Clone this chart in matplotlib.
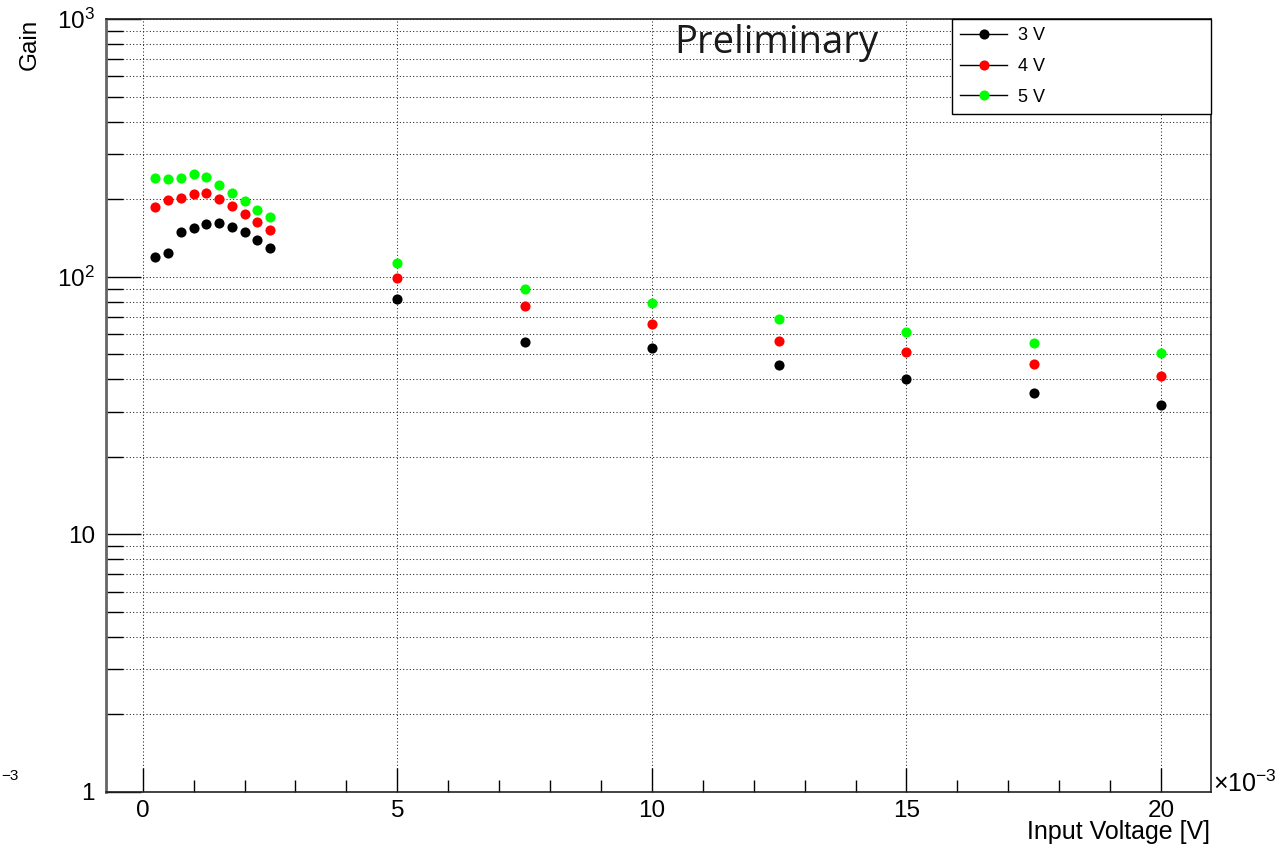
import matplotlib
matplotlib.use("Agg")
import matplotlib.pyplot as plt
from matplotlib.lines import Line2D
from matplotlib.ticker import FixedLocator, FuncFormatter, MultipleLocator

plt.rcParams['font.family'] = ['Liberation Sans', 'DejaVu Sans']
plt.rcParams['mathtext.fontset'] = 'custom'
plt.rcParams['mathtext.rm'] = 'Liberation Sans'
plt.rcParams['mathtext.it'] = 'Liberation Sans:italic'

# input amplitude in volts
input_voltage = [0.00025, 0.0005, 0.00075, 0.001, 0.00125, 0.0015, 0.00175, 0.002,
                 0.00225, 0.0025, 0.005, 0.0075, 0.01, 0.0125, 0.015, 0.0175, 0.02]

gain_3v = [119.0, 123.4, 149.7, 154.3, 160.3, 162.2, 155.7, 149.7, 139.0, 129.0,
           82.0, 55.7, 52.8, 45.5, 40.0, 35.5, 31.8]
gain_4v = [186.1, 198.7, 202.8, 209.1, 211.0, 200.4, 188.3, 175.3, 163.7, 152.0,
           98.7, 77.0, 65.6, 56.5, 51.2, 45.9, 41.2]
gain_5v = [241.2, 239.0, 241.2, 250.6, 243.4, 227.2, 212.1, 196.9, 181.7, 171.2,
           112.8, 89.4, 78.9, 68.6, 61.2, 55.5, 50.5]

series = [("3 V", gain_3v, "#000000"),
          ("4 V", gain_4v, "#ff0000"),
          ("5 V", gain_5v, "#00ff00")]

fig = plt.figure(figsize=(12.75, 8.49), dpi=100)
ax = fig.add_axes([0.08314, 0.06714, 0.86667, 0.91013])

for label, gain, col in series:
    ax.plot(input_voltage, gain, linestyle="none", marker="o", markersize=7.3,
            color=col, markeredgewidth=0, zorder=3)

ax.set_yscale("log")
ax.set_xlim(-0.00072, 0.02098)
ax.set_ylim(1, 1000)

# x axis in units of 1e-3 V
ax.xaxis.set_major_locator(MultipleLocator(0.005))
ax.xaxis.set_minor_locator(MultipleLocator(0.001))
ax.xaxis.set_major_formatter(FuncFormatter(lambda v, p: f"{v * 1e3:g}"))

ylabels = {1: "1", 10: "10", 100: r"$10^{2}$", 1000: r"$10^{3}$"}
ax.yaxis.set_major_locator(FixedLocator([1, 10, 100, 1000]))
ax.yaxis.set_major_formatter(FuncFormatter(lambda v, p: ylabels.get(int(round(v)), "")))
minor_y = [m * d for d in (1, 10, 100) for m in range(2, 10)]
ax.yaxis.set_minor_locator(FixedLocator(minor_y))
ax.yaxis.set_minor_formatter(FuncFormatter(lambda v, p: ""))

ax.tick_params(axis="x", which="major", direction="in", length=17, width=1,
               labelsize=17.5, pad=6)
ax.tick_params(axis="x", which="minor", direction="in", length=9, width=1)
ax.tick_params(axis="y", which="major", direction="in", length=25, width=1,
               labelsize=17.5, pad=8)
ax.tick_params(axis="y", which="minor", direction="in", length=12.5, width=1)
ax.tick_params(top=False, right=False, which="both")

gridstyle = dict(color="#222222", linewidth=0.75, linestyle=(0, (1, 2.2)))
ax.grid(True, axis="x", which="major", **gridstyle)
ax.grid(True, axis="y", which="both", **gridstyle)
ax.set_axisbelow(True)

for side in ("left", "bottom", "top", "right"):
    ax.spines[side].set_linewidth(1.2)
    ax.spines[side].set_color("#222222")
ax.spines["left"].set_color("#666666")
ax.spines["left"].set_linewidth(2)

handles = [Line2D([0], [0], color="black", linewidth=1, marker="o", markersize=7.3,
                  markerfacecolor=col, markeredgecolor=col, markeredgewidth=0)
           for _, _, col in series]
leg = ax.legend(handles, [s[0] for s in series], loc="upper left",
                bbox_to_anchor=(0.7656, 0.8839, 0.2344, 0.1161), mode="expand",
                borderaxespad=0, fontsize=13, handlelength=2.6, handletextpad=0.6,
                labelspacing=0.75, borderpad=0.45, fancybox=False, framealpha=1,
                edgecolor="black")
leg.get_frame().set_linewidth(1)

fig.text(776.5 / 1275, 1 - 53 / 849, "Preliminary",
         family="Open Sans", fontsize=27.5, ha="center", va="baseline", color="#1a1a1a")

fig.text(30 / 1275, 1 - 19 / 849, "Gain", rotation=90, ha="center", va="top",
         fontsize=17.5)
fig.text(1210 / 1275, 1 - 839 / 849, "Input Voltage [V]", ha="right",
         va="baseline", fontsize=18)
fig.text(1213 / 1275, 1 - 792 / 849, r"$\times10^{-3}$", ha="left",
         va="baseline", fontsize=18)
fig.text(0.001, 1 - 780 / 849, "\u22123", ha="left", va="baseline", fontsize=11)

fig.savefig("out.png", dpi=100)
